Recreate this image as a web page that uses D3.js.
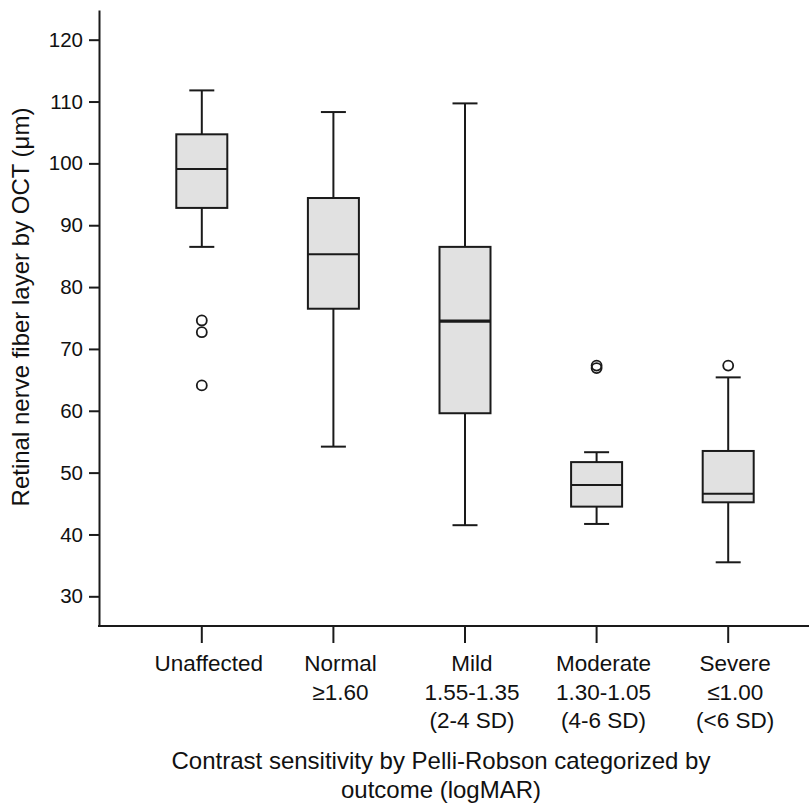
<!DOCTYPE html>
<html><head><meta charset="utf-8">
<script src="https://cdn.jsdelivr.net/npm/d3@7"></script>
<style>body{margin:0;background:#fff}svg{display:block}text{font-family:"Liberation Sans",Arial,sans-serif;fill:#111}</style>
</head><body><svg id="c" width="809" height="803"></svg>
<script>
const categories = ["Unaffected","Normal","Mild","Moderate","Severe"];
const categoryLines = [["Unaffected"],["Normal","\u22651.60"],["Mild","1.55-1.35","(2-4 SD)"],["Moderate","1.30-1.05","(4-6 SD)"],["Severe","\u22641.00","(<6 SD)"]];
const whiskerLow = [86.5, 54.2, 41.5, 41.7, 35.5];
const q1 = [92.8, 76.5, 59.6, 44.5, 45.2];
const median = [99.1, 85.3, 74.5, 48.0, 46.6];
const q3 = [104.7, 94.4, 86.5, 51.7, 53.5];
const whiskerHigh = [111.8, 108.3, 109.7, 53.3, 65.4];
const outliers = [[74.6, 72.7, 64.1], [], [], [67.3, 66.9], [67.3]];
const yTicks = [30,40,50,60,70,80,90,100,110,120];
const yTitle = "Retinal nerve fiber layer by OCT (\u03bcm)";
const xTitleLines = ["Contrast sensitivity by Pelli-Robson categorized by","outcome (logMAR)"];

const svg = d3.select("#c");
const W = 809;
const y = d3.scaleLinear().domain([25.2, 124.8]).range([626, 10]);
const x = d3.scaleBand().domain(categories).range([136, 794]);
const axX = 99;
const ink = "#1a1a1a";

// y axis
const gy = svg.append("g").attr("transform", `translate(${axX},0)`)
  .call(d3.axisLeft(y).tickValues(yTicks).tickSize(10).tickSizeOuter(0).tickPadding(6));
gy.select(".domain").attr("stroke", ink).attr("stroke-width", 2);
gy.selectAll(".tick line").attr("stroke", ink).attr("stroke-width", 2);
gy.selectAll(".tick text").attr("font-size", 20.5).attr("fill", "#111").attr("font-family", '"Liberation Sans",Arial,sans-serif');

// x axis
const gx = svg.append("g").attr("transform", `translate(0,${y.range()[0]})`)
  .call(d3.axisBottom(x).tickSize(17).tickSizeOuter(0).tickFormat(""));
gx.select(".domain").remove();
gx.selectAll(".tick line").attr("stroke", ink).attr("stroke-width", 2);
svg.append("line").attr("x1", axX - 1).attr("x2", W).attr("y1", y.range()[0]).attr("y2", y.range()[0])
  .attr("stroke", ink).attr("stroke-width", 2);

// category labels
categories.forEach((c, i) => {
  const t = svg.append("text").attr("text-anchor", "middle").attr("font-size", 22.5)
    .attr("x", x(c) + x.bandwidth()/2 + 7).attr("y", 671);
  categoryLines[i].forEach((ln, j) => {
    t.append("tspan").attr("x", x(c) + x.bandwidth()/2 + 7).attr("dy", j === 0 ? 0 : 28.5).text(ln);
  });
});

// boxes
const bw = 51, cw = 25;
categories.forEach((c, i) => {
  const cx = x(c) + x.bandwidth()/2;
  const g = svg.append("g");
  g.append("line").attr("x1", cx).attr("x2", cx).attr("y1", y(whiskerHigh[i])).attr("y2", y(q3[i])).attr("stroke", ink).attr("stroke-width", 2);
  g.append("line").attr("x1", cx).attr("x2", cx).attr("y1", y(q1[i])).attr("y2", y(whiskerLow[i])).attr("stroke", ink).attr("stroke-width", 2);
  g.append("line").attr("x1", cx - cw/2).attr("x2", cx + cw/2).attr("y1", y(whiskerHigh[i])).attr("y2", y(whiskerHigh[i])).attr("stroke", ink).attr("stroke-width", 2);
  g.append("line").attr("x1", cx - cw/2).attr("x2", cx + cw/2).attr("y1", y(whiskerLow[i])).attr("y2", y(whiskerLow[i])).attr("stroke", ink).attr("stroke-width", 2);
  g.append("rect").attr("x", cx - bw/2).attr("width", bw).attr("y", y(q3[i])).attr("height", y(q1[i]) - y(q3[i]))
    .attr("fill", "#e1e1e1").attr("stroke", ink).attr("stroke-width", 2);
  g.append("line").attr("x1", cx - bw/2).attr("x2", cx + bw/2).attr("y1", y(median[i])).attr("y2", y(median[i]))
    .attr("stroke", ink).attr("stroke-width", i === 2 ? 3.2 : 2);
  outliers[i].forEach(v => {
    g.append("circle").attr("cx", cx).attr("cy", y(v)).attr("r", 5).attr("fill", "none").attr("stroke", ink).attr("stroke-width", 1.8);
  });
});

// titles
svg.append("text").attr("text-anchor", "middle").attr("font-size", 24)
  .attr("transform", "translate(29,307) rotate(-90)").text(yTitle);
const xt = svg.append("text").attr("text-anchor", "middle").attr("font-size", 24).attr("y", 769);
xTitleLines.forEach((ln, j) => xt.append("tspan").attr("x", 441).attr("dy", j === 0 ? 0 : 29).text(ln));
</script></body></html>
